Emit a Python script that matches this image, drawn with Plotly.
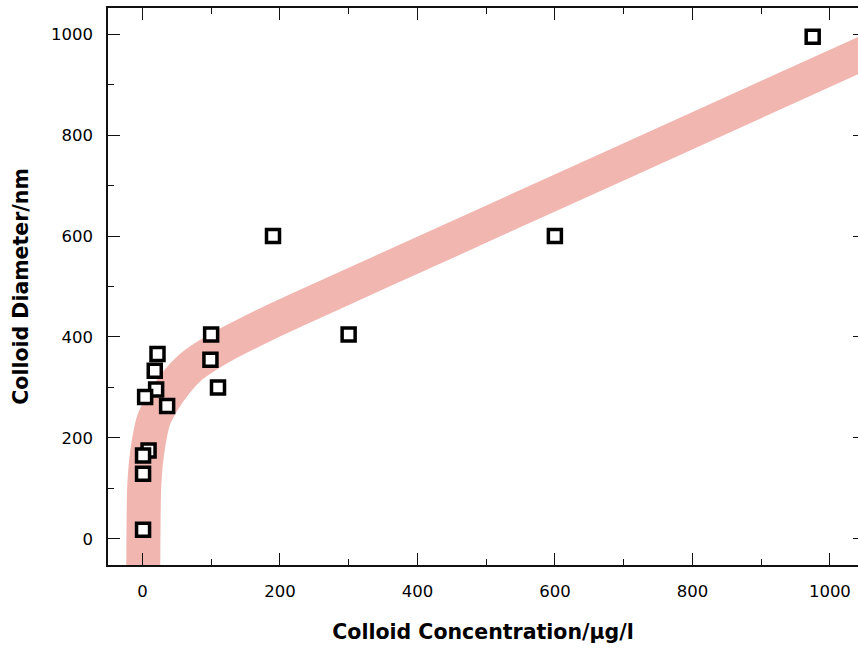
import plotly.graph_objects as go

# Measured colloids: concentration (µg/l) vs. diameter (nm)
conc = [975, 600, 190, 300, 100, 99, 110, 22, 18, 20, 4, 36, 9, 1, 1, 1]
diam = [995, 600, 600, 405, 405, 355, 300, 366, 333, 296, 281, 263, 175, 165, 129, 18]

# Trend curve through the data (drawn as a broad band)
trend_conc = [1.0, 1.3, 2.5, 5, 9.7, 16.3, 29, 50, 71, 95, 120, 150, 178, 230, 345, 520, 865, 1040, 1100]
trend_diam = [-120, -52, 96, 148, 195, 235, 270, 311, 341, 364, 384, 405, 424, 457, 528, 636, 849, 957, 994]

tick_vals = [0, 200, 400, 600, 800, 1000]
tick_text = [str(v) for v in tick_vals]

FONT = "DejaVu Sans"

fig = go.Figure()

fig.add_trace(go.Scatter(
    x=trend_conc, y=trend_diam, mode="lines",
    line=dict(color="#F1B6B0", width=34, shape="spline", smoothing=0.8),
    hoverinfo="skip", showlegend=False,
))

fig.add_trace(go.Scatter(
    x=conc, y=diam, mode="markers",
    marker=dict(symbol="square", size=13, color="white",
                line=dict(color="black", width=3.5)),
    showlegend=False,
))

# empty trace so the right-hand tick axis is rendered
fig.add_trace(go.Scatter(x=[None], y=[None], yaxis="y2",
                         showlegend=False, hoverinfo="skip"))

fig.update_layout(
    width=858, height=649,
    margin=dict(l=108, r=0, t=8, b=84),
    paper_bgcolor="white", plot_bgcolor="white",
    font=dict(family=FONT, color="black", size=16.5),
    xaxis=dict(
        range=[-50, 1040.9], showgrid=False, zeroline=False,
        showline=True, linecolor="#111", linewidth=1.5, mirror="ticks",
        ticks="inside", ticklen=12, tickwidth=1.3, tickcolor="#111",
        tickvals=tick_vals, ticktext=tick_text, ticklabelstandoff=10,
        minor=dict(dtick=100, tick0=0, ticks="inside", ticklen=6,
                   tickwidth=1.3, tickcolor="#111", showgrid=False),
        title=dict(text="<b>Colloid Concentration/µg/l</b>",
                   font=dict(family=FONT, size=20.5), standoff=25),
    ),
    yaxis=dict(
        range=[-52, 1052], showgrid=False, zeroline=False,
        showline=True, linecolor="#111", linewidth=1.5, mirror=False,
        ticks="inside", ticklen=12, tickwidth=1.3, tickcolor="#111",
        tickvals=tick_vals, ticktext=tick_text, ticklabelstandoff=10,
        minor=dict(dtick=100, tick0=0, ticks="inside", ticklen=6,
                   tickwidth=1.3, tickcolor="#111", showgrid=False),
        title=dict(text="<b>Colloid Diameter/nm</b>",
                   font=dict(family=FONT, size=20.5), standoff=17),
    ),
    yaxis2=dict(
        range=[-52, 1052], overlaying="y", side="right", anchor="x",
        showgrid=False, zeroline=False, showline=False,
        ticks="inside", ticklen=5, tickwidth=1.3, tickcolor="#111",
        tickvals=tick_vals, showticklabels=False,
    ),
)

fig.write_html("out.html")
